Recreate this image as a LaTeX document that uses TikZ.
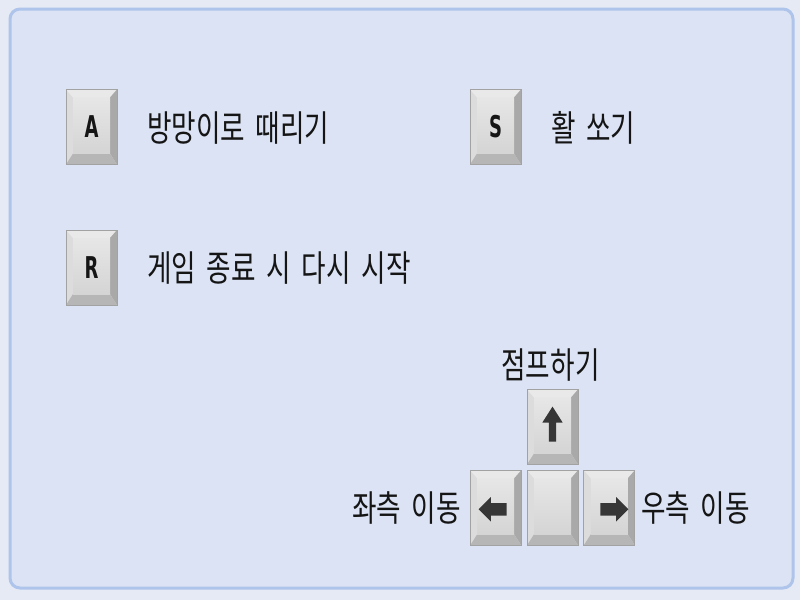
\documentclass[tikz,border=0pt]{standalone}
\usepackage{fontspec}
\usetikzlibrary{positioning,shapes.arrows}
\newfontfamily\kofont[FakeStretch=0.74,WordSpace=1.8]{Noto Sans CJK KR}
\newfontfamily\keyfont[FakeStretch=0.6]{DejaVu Sans}
\definecolor{pagebg}{HTML}{E5EAF5}
\definecolor{panelfill}{HTML}{DBE3F4}
\definecolor{paneledge}{HTML}{AFC4EA}
\definecolor{keyedge}{HTML}{A2A2A2}
\definecolor{keytop}{HTML}{E9E9E9}
\definecolor{keyleft}{HTML}{DCDCDC}
\definecolor{keyright}{HTML}{A9A9A9}
\definecolor{keybottom}{HTML}{B6B6B6}
\definecolor{arrowdark}{HTML}{363636}
\definecolor{labelink}{HTML}{151515}
\tikzset{
  keycap/.style={rectangle, draw=keyedge, line width=0.8pt, minimum width=51pt, minimum height=75pt,
    inner sep=0pt, fill=keyleft, text=labelink, font=\keyfont\bfseries\fontsize{30pt}{32pt}\selectfont,
    path picture={
      \coordinate (nw) at (path picture bounding box.north west);
      \coordinate (ne) at (path picture bounding box.north east);
      \coordinate (sw) at (path picture bounding box.south west);
      \coordinate (se) at (path picture bounding box.south east);
      \fill[keytop] (nw) -- (ne) -- ([xshift=-7pt,yshift=-8pt]ne) -- ([xshift=7pt,yshift=-8pt]nw) -- cycle;
      \fill[keyright] (ne) -- (se) -- ([xshift=-7pt,yshift=11pt]se) -- ([xshift=-7pt,yshift=-8pt]ne) -- cycle;
      \fill[keybottom] (sw) -- (se) -- ([xshift=-7pt,yshift=11pt]se) -- ([xshift=7pt,yshift=11pt]sw) -- cycle;
      \shade[top color=keytop!80!keyleft, bottom color=keyleft!85!keyright]
        ([xshift=7pt,yshift=-8pt]nw) rectangle ([xshift=-7pt,yshift=11pt]se);
    }},
  keytext/.style={inner sep=0pt, text=labelink, font=\kofont\fontsize{36pt}{40pt}\selectfont},
  keyarrow/.style={single arrow, fill=arrowdark, inner sep=0pt}
}
\begin{document}
\begin{tikzpicture}[x=1pt,y=-1pt]
  % Background
  \fill[pagebg] (0,0) rectangle (800,600);
  \useasboundingbox (0,0) rectangle (800,600);
  \draw[paneledge, fill=panelfill, line width=3pt, rounded corners=10pt] (10,9) rectangle (793,588);
  % Keys
  \node (A-KEY) [keycap] at (91.5,127) {A};
  \node (S-KEY) [keycap] at (495.5,127) {S};
  \node (R-KEY) [keycap] at (91.5,267.5) {R};
  \node (UP) [keycap] at (552.5,427) {};
  \node (MID) [keycap, below=5pt of UP] {};
  \node (LEFT) [keycap, left=5pt of MID] {};
  \node (RIGHT) [keycap, right=5pt of MID] {};
  % Arrows on the keys
  \node (UP-ARROW) [keyarrow, rotate=90, minimum height=35pt,
    single arrow head extend=6.5pt, single arrow tip angle=65] at (UP.center) {\rule{0pt}{7pt}};
  \node (LEFT-ARROW) [keyarrow, rotate=180, minimum height=28pt,
    single arrow head extend=6pt] at ([yshift=-1.5pt]LEFT.center) {\rule{0pt}{12pt}};
  \node (RIGHT-ARROW) [keyarrow, minimum height=28pt,
    single arrow head extend=6pt] at ([xshift=2pt,yshift=-1.5pt]RIGHT.center) {\rule{0pt}{12pt}};
  % Labels
  \node (A-TEXT) [keytext, anchor=west] at (147,128) {방망이로 때리기};
  \node (S-TEXT) [keytext, anchor=west] at (551,128) {활 쏘기};
  \node (R-TEXT) [keytext, anchor=west] at (147,268) {게임 종료 시 다시 시작};
  \node (UP-TEXT) [keytext] at (550.5,365) {점프하기};
  \node (LEFT-TEXT) [keytext, anchor=east] at (461,508) {좌측 이동};
  \node (RIGHT-TEXT) [keytext, anchor=west] at (641,508) {우측 이동};
\end{tikzpicture}
\end{document}
